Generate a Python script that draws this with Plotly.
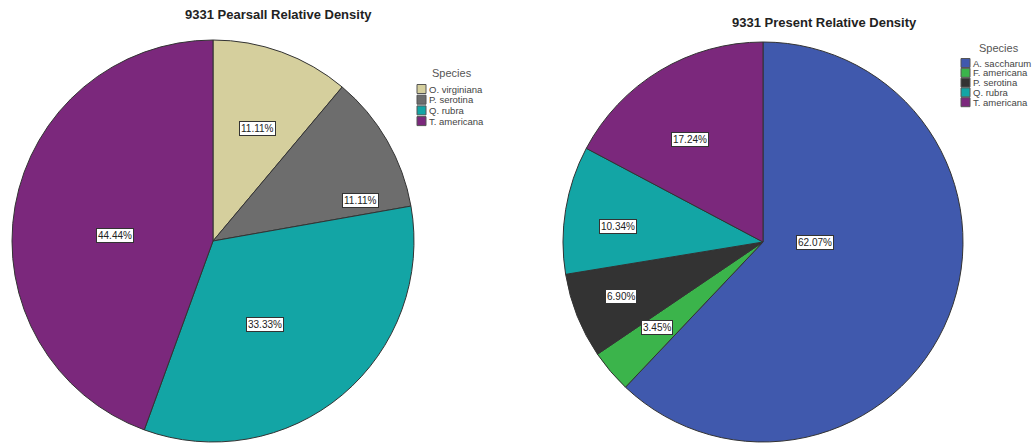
import math
import plotly.graph_objects as go

# ---- data ----
pearsall_species = ["O. virginiana", "P. serotina", "Q. rubra", "T. americana"]
pearsall_counts = [1, 1, 3, 4]
present_species = ["A. saccharum", "F. americana", "P. serotina", "Q. rubra", "T. americana"]
present_counts = [18, 1, 2, 3, 5]
pearsall_title = "9331 Pearsall Relative Density"
present_title = "9331 Present Relative Density"
legend_title = "Species"

# ---- style ----
W, H = 1035, 444
PEARSALL_COLORS = ["#d5cf9d", "#6d6d6d", "#13a5a5", "#7b287c"]
PRESENT_COLORS = ["#4059ad", "#3bb44b", "#333333", "#13a5a5", "#7b287c"]
FONT = "Liberation Sans, Arial, sans-serif"

left_c, left_r = (213, 241), 201
right_c, right_r = (763, 242), 200
# label placement inside each slice: fraction of radius, angular shift (deg) from slice middle
left_label_rf = [0.60, 0.76, 0.49, 0.49]
left_label_shift = [1.4, 14.8, 8.0, -7.0]
right_label_rf = [0.26, 0.68, 0.76, 0.73, 0.63]
right_label_shift = [-20.7, 1.3, 0.7, -3.3, -4.6]


def domain(c, r):
    return dict(x=[(c[0] - r) / W, (c[0] + r) / W],
                y=[1 - (c[1] + r) / H, 1 - (c[1] - r) / H])


def label_annotations(counts, c, r, rfs, shifts):
    total = sum(counts)
    anns = []
    cum = 0
    for v, rf, sh in zip(counts, rfs, shifts):
        frac = v / total
        mid = 2 * math.pi * (cum + frac / 2) + math.radians(sh)
        px = c[0] + math.sin(mid) * rf * r
        py = c[1] - math.cos(mid) * rf * r
        anns.append(dict(
            x=px / W, y=1 - py / H, xref="paper", yref="paper",
            xanchor="center", yanchor="middle",
            text=f"{100 * frac:.2f}%", showarrow=False,
            font=dict(family=FONT, size=10, color="#222222"),
            bgcolor="white", bordercolor="#333333", borderwidth=1, borderpad=1,
        ))
        cum += frac
    return anns


def manual_legend(names, colors, title_xy, box_x, first_y, step):
    anns, shapes = [], []
    anns.append(dict(x=title_xy[0] / W, y=1 - title_xy[1] / H, xref="paper", yref="paper",
                     xanchor="center", yanchor="middle",
                     text=legend_title, showarrow=False,
                     font=dict(family=FONT, size=11, color="#555555")))
    for i, (n, col) in enumerate(zip(names, colors)):
        y = first_y + i * step
        shapes.append(dict(type="rect", xref="paper", yref="paper",
                           x0=box_x / W, x1=(box_x + 9) / W,
                           y0=1 - (y + 4.5) / H, y1=1 - (y - 4.5) / H,
                           fillcolor=col, line=dict(color="#555555", width=1)))
        anns.append(dict(x=(box_x + 10) / W, y=1 - y / H, xref="paper", yref="paper",
                         xanchor="left", yanchor="middle", text=n, showarrow=False,
                         font=dict(family=FONT, size=9.5, color="#444444")))
    return anns, shapes


fig = go.Figure()
fig.add_trace(go.Pie(
    labels=pearsall_species, values=pearsall_counts,
    sort=False, direction="clockwise", rotation=0,
    marker=dict(colors=PEARSALL_COLORS, line=dict(color="#333333", width=1)),
    textinfo="none", hoverinfo="label+percent",
    domain=domain(left_c, left_r), showlegend=False,
))
fig.add_trace(go.Pie(
    labels=present_species, values=present_counts,
    sort=False, direction="clockwise", rotation=0,
    marker=dict(colors=PRESENT_COLORS, line=dict(color="#333333", width=1)),
    textinfo="none", hoverinfo="label+percent",
    domain=domain(right_c, right_r), showlegend=False,
))

annotations, shapes = [], []
annotations += label_annotations(pearsall_counts, left_c, left_r, left_label_rf, left_label_shift)
annotations += label_annotations(present_counts, right_c, right_r, right_label_rf, right_label_shift)
annotations.append(dict(x=278 / W, y=1 - 15 / H, xref="paper", yref="paper",
                        xanchor="center", yanchor="middle",
                        text=f"<b>{pearsall_title}</b>", showarrow=False,
                        font=dict(family=FONT, size=13, color="#222222")))
annotations.append(dict(x=824 / W, y=1 - 22 / H, xref="paper", yref="paper",
                        xanchor="center", yanchor="middle",
                        text=f"<b>{present_title}</b>", showarrow=False,
                        font=dict(family=FONT, size=13, color="#222222")))

a, s = manual_legend(pearsall_species, PEARSALL_COLORS, (452, 73), 417, 89, 10.7)
annotations += a
shapes += s
a, s = manual_legend(present_species, PRESENT_COLORS, (999, 48), 961, 63, 9.8)
annotations += a
shapes += s

fig.update_layout(
    width=W, height=H,
    margin=dict(l=0, r=0, t=0, b=0),
    paper_bgcolor="white", plot_bgcolor="white",
    annotations=annotations, shapes=shapes, showlegend=False,
)

fig.write_html("out.html")
